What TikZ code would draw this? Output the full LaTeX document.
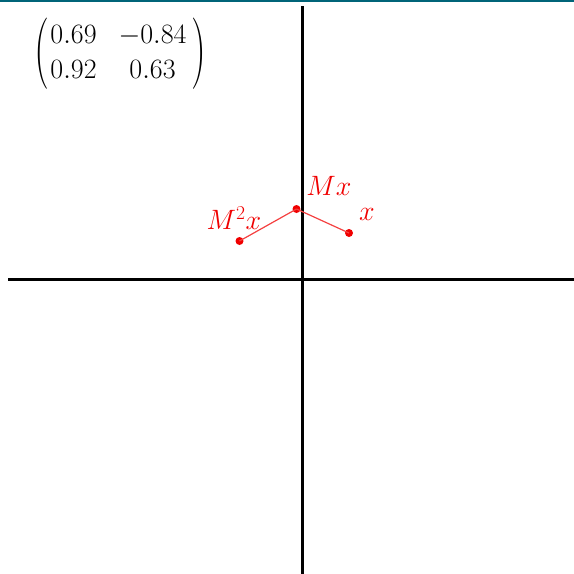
\RequirePackage{fix-cm}
\documentclass[tikz,border=0pt]{standalone}
\usepackage{amsmath}
\usepackage{graphicx}
\definecolor{topteal}{RGB}{0,100,120}
\definecolor{ptred}{RGB}{240,0,0}
\tikzset{
  axis/.style={line width=3pt, black},
  dot/.style={circle, fill=ptred, inner sep=0pt, minimum size=8pt},
  link/.style={ptred!75, line width=1.2pt},
  lab/.style={text=ptred, font=\fontsize{28}{33}\selectfont, inner sep=0pt},
  paren/.style={inner sep=0pt, font=\fontsize{28}{33}\selectfont}
}
\begin{document}
\begin{tikzpicture}[x=1pt,y=-1pt]
\useasboundingbox (0,0) rectangle (574,574);
\fill[topteal] (0,0) rectangle (574,2.2);
\coordinate (vt) at (302.5,6);
\coordinate (vb) at (302.5,574);
\coordinate (hl) at (8,279);
\coordinate (hr) at (574,279);
\draw[axis] (vt) -- (vb);
\draw[axis] (hl) -- (hr);
\node[inner sep=0pt] (mat) at (118.5,54) {\fontsize{28}{35}\selectfont\setlength{\arraycolsep}{11pt}$\begin{matrix}0.69 & -0.84\\ 0.92 & 0.63\end{matrix}$};
\node[paren] (lp) at (42,54) {\scalebox{1.5}[2.55]{$($}};
\node[paren] (rp) at (199,54) {\scalebox{1.5}[2.55]{$)$}};
\node[dot] (x) at (349,233) {};
\node[dot] (mx) at (296.5,209) {};
\node[dot] (m2x) at (239.5,241) {};
\draw[link] (m2x.center) -- (mx.center);
\draw[link] (mx.center) -- (x.center);
\node[lab] (lx) at (367,214) {$x$};
\node[lab] (lmx) at (329,186) {$Mx$};
\node[lab] (lm2x) at (234,218) {$M^2x$};
\end{tikzpicture}
\end{document}
